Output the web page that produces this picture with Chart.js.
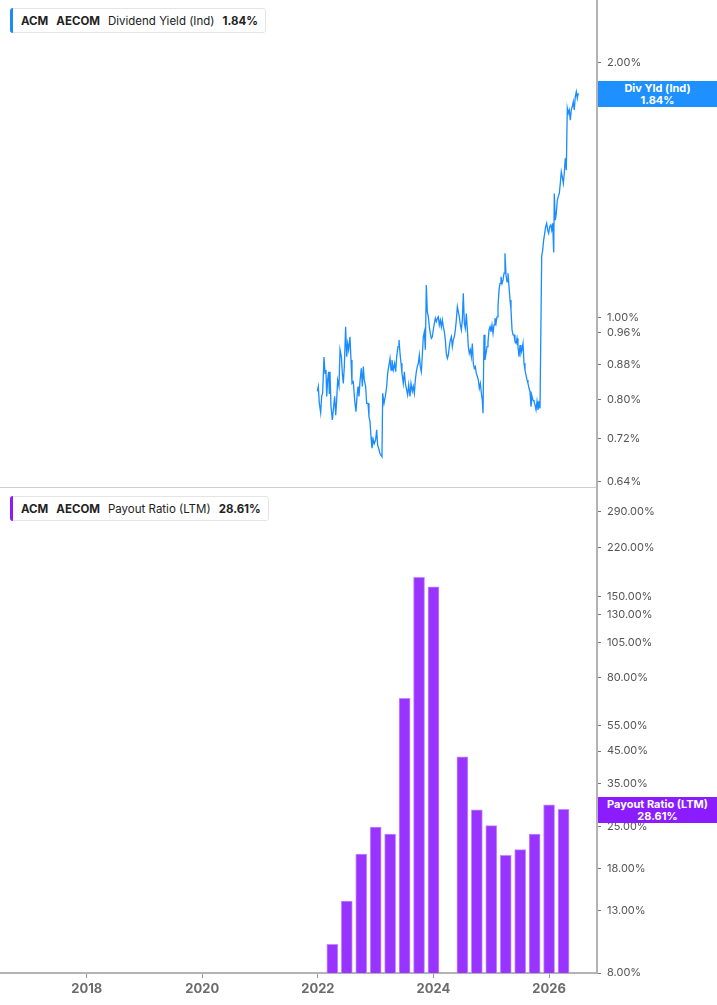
<!DOCTYPE html>
<html>
<head>
<meta charset="utf-8">
<script src="https://cdn.jsdelivr.net/npm/chart.js@4"></script>
<style>
  body { margin: 0; background: #fff; font-family: Inter, sans-serif; }
  #wrap { position: relative; width: 717px; height: 1005px; overflow: hidden; }
  canvas { position: absolute; left: 0; }
  .legend {
    position: absolute; left: 10px; height: 25px; box-sizing: border-box;
    border: 1px solid #e4e4e4; border-radius: 3px; background: #fff;
    display: flex; align-items: center; gap: 8px; padding: 0 7px 0 10px;
    font-size: 11.5px; color: #222; white-space: nowrap;
  }
  .legend b { font-weight: 700; }
  .legend .sw { position: absolute; left: -1px; top: -1px; bottom: -1px; width: 3px; border-radius: 3px 0 0 3px; }
  .badge {
    position: absolute; left: 598px; width: 119px; height: 26px;
    color: #fff; font-size: 11px; font-weight: 700; line-height: 12px;
    text-align: center; display: flex; flex-direction: column; justify-content: center;
  }
</style>
</head>
<body>
<div id="wrap">
  <canvas id="yieldChart" width="717" height="488" style="top:0"></canvas>
  <canvas id="payoutChart" width="717" height="517" style="top:488px"></canvas>

  <div class="legend" style="top:8px">
    <span class="sw" style="background:#1e88ff"></span>
    <b>ACM</b><b>AECOM</b><span>Dividend Yield (Ind)</span><b>1.84%</b>
  </div>
  <div class="legend" style="top:496px">
    <span class="sw" style="background:#8a1cff"></span>
    <b>ACM</b><b>AECOM</b><span>Payout Ratio (LTM)</span><b>28.61%</b>
  </div>

  <div class="badge" style="top:81px; background:#1e90ff"><div>Div Yld (Ind)</div><div>1.84%</div></div>
  <div class="badge" style="top:797px; background:#8a1cff"><div>Payout Ratio (LTM)</div><div>28.61%</div></div>
</div>

<script>
// Dividend yield (indicated), % - dates as decimal years
const divYldDates = [
  2021.990, 2022.007, 2022.025, 2022.048, 2022.065, 2022.082, 2022.106, 2022.123, 2022.140, 2022.152,
  2022.169, 2022.186, 2022.198, 2022.209, 2022.227, 2022.250, 2022.267, 2022.290, 2022.308, 2022.325,
  2022.342, 2022.365, 2022.383, 2022.406, 2022.423, 2022.440, 2022.457, 2022.480, 2022.498, 2022.515,
  2022.532, 2022.555, 2022.573, 2022.590, 2022.613, 2022.636, 2022.659, 2022.677, 2022.694, 2022.711,
  2022.728, 2022.751, 2022.769, 2022.786, 2022.803, 2022.826, 2022.844, 2022.867, 2022.884, 2022.901,
  2022.919, 2022.936, 2022.959, 2022.976, 2022.999, 2023.017, 2023.034, 2023.051, 2023.074, 2023.092,
  2023.109, 2023.121, 2023.144, 2023.167, 2023.190, 2023.207, 2023.225, 2023.248, 2023.265, 2023.282,
  2023.305, 2023.328, 2023.346, 2023.363, 2023.386, 2023.403, 2023.421, 2023.438, 2023.455, 2023.478,
  2023.496, 2023.513, 2023.536, 2023.553, 2023.571, 2023.594, 2023.611, 2023.634, 2023.651, 2023.669,
  2023.686, 2023.703, 2023.720, 2023.738, 2023.755, 2023.772, 2023.790, 2023.807, 2023.824, 2023.842,
  2023.859, 2023.876, 2023.893, 2023.911, 2023.928, 2023.945, 2023.963, 2023.980, 2023.997, 2024.015,
  2024.032, 2024.049, 2024.067, 2024.084, 2024.101, 2024.119, 2024.136, 2024.153, 2024.170, 2024.188,
  2024.205, 2024.222, 2024.240, 2024.257, 2024.274, 2024.292, 2024.309, 2024.326, 2024.343, 2024.361,
  2024.378, 2024.395, 2024.413, 2024.430, 2024.447, 2024.465, 2024.482, 2024.499, 2024.516, 2024.534,
  2024.551, 2024.568, 2024.586, 2024.603, 2024.620, 2024.638, 2024.655, 2024.672, 2024.689, 2024.707,
  2024.724, 2024.741, 2024.759, 2024.776, 2024.793, 2024.811, 2024.828, 2024.845, 2024.857, 2024.874,
  2024.891, 2024.909, 2024.926, 2024.943, 2024.961, 2024.978, 2024.995, 2025.012, 2025.030, 2025.047,
  2025.064, 2025.082, 2025.099, 2025.116, 2025.134, 2025.151, 2025.168, 2025.186, 2025.203, 2025.220,
  2025.237, 2025.255, 2025.272, 2025.289, 2025.307, 2025.324, 2025.341, 2025.359, 2025.376, 2025.393,
  2025.410, 2025.428, 2025.445, 2025.462, 2025.480, 2025.497, 2025.514, 2025.532, 2025.549, 2025.566,
  2025.583, 2025.601, 2025.618, 2025.635, 2025.653, 2025.670, 2025.687, 2025.705, 2025.722, 2025.739,
  2025.757, 2025.774, 2025.791, 2025.808, 2025.826, 2025.843,
  2025.872, 2025.889, 2025.906, 2025.924, 2025.941, 2025.958, 2025.976, 2025.993, 2026.010, 2026.028,
  2026.045, 2026.062, 2026.080, 2026.090, 2026.107, 2026.125, 2026.142, 2026.159, 2026.177, 2026.194,
  2026.211, 2026.228, 2026.246, 2026.263, 2026.280, 2026.298, 2026.315, 2026.332, 2026.349, 2026.367,
  2026.384, 2026.401, 2026.419, 2026.436, 2026.453, 2026.471, 2026.488, 2026.505
];
const divYldValues = [
  0.818, 0.829, 0.792, 0.772, 0.807, 0.814, 0.898, 0.859, 0.867, 0.807,
  0.844, 0.863, 0.814, 0.863, 0.785, 0.757, 0.778, 0.807, 0.767, 0.799,
  0.844, 0.829, 0.916, 0.899, 0.859, 0.836, 0.875, 0.975, 0.899, 0.932,
  0.916, 0.949, 0.891, 0.836, 0.840, 0.799, 0.774, 0.807, 0.829, 0.807,
  0.840, 0.871, 0.829, 0.875, 0.844, 0.829, 0.792, 0.792, 0.764, 0.754,
  0.723, 0.701, 0.717, 0.710, 0.717, 0.737, 0.707, 0.701, 0.691, 0.688,
  0.685, 0.814, 0.792, 0.807, 0.829, 0.859, 0.875, 0.895, 0.867, 0.891,
  0.867, 0.883, 0.863, 0.899, 0.924, 0.941, 0.907, 0.883, 0.859, 0.836,
  0.863, 0.836, 0.821, 0.810, 0.833, 0.807, 0.836, 0.818, 0.829, 0.814,
  0.844, 0.863, 0.875, 0.883, 0.903, 0.875, 0.863, 0.903, 0.949, 0.962,
  0.916, 1.092, 1.016, 1.002, 0.975, 0.958, 0.945, 0.949, 0.967, 0.984,
  0.998, 0.989, 0.998, 1.002, 0.980, 0.993, 0.975, 0.993, 0.975, 0.962,
  0.941, 0.907, 0.895, 0.903, 0.924, 0.941, 0.949, 0.924, 0.941, 0.949,
  0.967, 0.993, 1.030, 1.016, 1.002, 0.980, 0.967, 0.993, 1.068, 0.984,
  0.971, 1.011, 0.967, 0.924, 0.907, 0.916, 0.899, 0.932, 0.883, 0.871,
  0.875, 0.859, 0.852, 0.844, 0.825, 0.836, 0.814, 0.799, 0.771, 0.954,
  0.891, 0.907, 0.924, 0.936, 0.967, 0.975, 0.962, 0.980, 0.958, 0.980,
  0.998, 0.984, 1.002, 1.030, 1.078, 1.097, 1.117, 1.097, 1.107, 1.128,
  1.191, 1.122, 1.102, 1.128, 1.087, 1.049, 1.021, 0.967, 0.954, 0.954,
  0.936, 0.932, 0.945, 0.924, 0.899, 0.928, 0.907, 0.916, 0.932, 0.883,
  0.867, 0.855, 0.844, 0.836, 0.825, 0.818, 0.785, 0.807, 0.799, 0.796,
  0.788, 0.778, 0.796, 0.778, 0.792, 0.781,
  1.180, 1.201, 1.234, 1.257, 1.280, 1.292, 1.268, 1.257, 1.280, 1.286,
  1.268, 1.292, 1.193, 1.401, 1.303, 1.327, 1.376, 1.389, 1.401, 1.440,
  1.486, 1.466, 1.440, 1.480, 1.541, 1.493, 1.766, 1.742, 1.758, 1.710,
  1.758, 1.773, 1.798, 1.758, 1.822, 1.847, 1.814, 1.840
];

// Payout ratio (LTM), % - quarterly, one quarter not shown
const payoutQuarters = [
  2022.25, 2022.50, 2022.75, 2023.00, 2023.25, 2023.50, 2023.75, 2024.00, 2024.25,
  2024.50, 2024.75, 2025.00, 2025.25, 2025.50, 2025.75, 2026.00, 2026.25
];
const payoutValues = [
  10.0, 14.0, 20.2, 24.9, 23.6, 67.9, 174.0, 161.5, null,
  43.0, 28.5, 25.2, 20.0, 20.9, 23.6, 29.6, 28.61
];

// axis ticks
const yearTicks = [2018, 2020, 2022, 2024, 2026];
const yieldTicks = [0.64, 0.72, 0.80, 0.88, 0.96, 1.00, 2.00];
const payoutTicks = [8, 13, 18, 25, 35, 45, 55, 80, 105, 130, 150, 220, 290];

const THEME = {
  line: '#1a8cff',
  bar: '#9933ff',
  barEdge: '#c08cff',
  axis: '#b3b3b3',
  sep: '#cfcfcf',
  tickMark: '#777',
  text: '#555',
  xText: '#6b6b6b'
};

Chart.defaults.font.family = "Inter, sans-serif";
Chart.defaults.animation = false;

const X_MIN = 2016.5, X_MAX = 2026.829;

function rightAxis(min, max, ticks) {
  return {
    type: 'logarithmic',
    position: 'right',
    bounds: 'data', // keep min/max exactly, don't snap to generated ticks
    min: min,
    max: max,
    afterBuildTicks: s => { s.ticks = ticks.map(v => ({ value: v })); },
    // fixed axis width, no label overhang padding so the plot fills the panel
    afterFit: s => { s.width = 120; s.paddingTop = 0; s.paddingBottom = 0; },
    border: { color: THEME.axis, width: 2 },
    grid: { drawOnChartArea: false, tickLength: 4, color: THEME.tickMark },
    ticks: {
      autoSkip: false,
      padding: 6,
      color: THEME.text,
      font: { size: 11 },
      callback: v => Number(v).toFixed(2) + '%'
    }
  };
}

new Chart(document.getElementById('yieldChart'), {
  type: 'line',
  data: {
    datasets: [{
      data: divYldDates.map((d, i) => ({ x: d, y: divYldValues[i] })),
      borderColor: THEME.line,
      borderWidth: 1.3,
      pointRadius: 0,
      tension: 0
    }]
  },
  options: {
    responsive: false,
    layout: { padding: 0 },
    plugins: { legend: { display: false }, tooltip: { enabled: false } },
    scales: {
      // hidden labels; its border is the panel separator
      x: {
        type: 'linear', min: X_MIN, max: X_MAX,
        afterFit: s => { s.height = 1; s.paddingLeft = 0; s.paddingRight = 0; },
        border: { color: THEME.sep, width: 1 },
        grid: { display: false },
        ticks: { display: false }
      },
      y: rightAxis(0.6309, 2.370, yieldTicks)
    }
  }
});

new Chart(document.getElementById('payoutChart'), {
  type: 'bar',
  data: {
    datasets: [{
      data: payoutQuarters.map((q, i) => ({ x: q, y: payoutValues[i] })),
      backgroundColor: THEME.bar,
      borderColor: THEME.barEdge,
      borderWidth: 1,
      barThickness: 11
    }]
  },
  options: {
    responsive: false,
    layout: { padding: 0 },
    plugins: { legend: { display: false }, tooltip: { enabled: false } },
    scales: {
      x: {
        type: 'linear',
        min: X_MIN,
        max: X_MAX,
        offset: false,
        afterBuildTicks: s => { s.ticks = yearTicks.map(v => ({ value: v })); },
        afterFit: s => { s.height = 32; s.paddingLeft = 0; s.paddingRight = 0; },
        border: { color: THEME.axis, width: 2 },
        grid: { drawOnChartArea: false, offset: false, tickLength: 5, color: '#999' },
        ticks: {
          autoSkip: false,
          maxRotation: 0,
          padding: 3,
          color: THEME.xText,
          font: { size: 13, weight: 'bold' },
          callback: v => String(v)
        }
      },
      y: rightAxis(8, 348.9, payoutTicks)
    }
  }
});
</script>
</body>
</html>
